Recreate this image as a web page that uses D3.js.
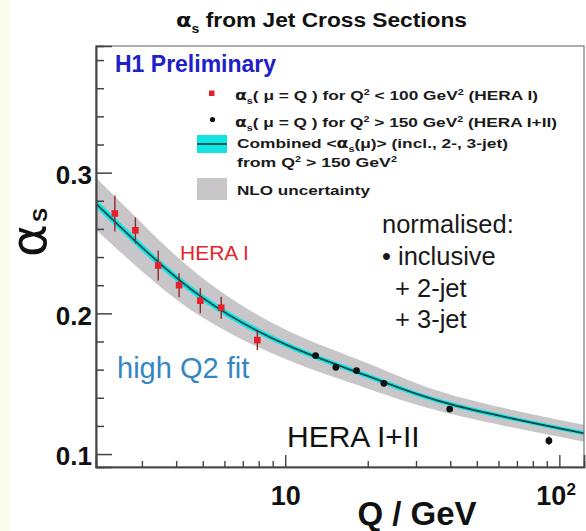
<!DOCTYPE html>
<html>
<head>
<meta charset="utf-8">
<script src="https://cdn.jsdelivr.net/npm/d3@7"></script>
<style>
  html, body { margin: 0; padding: 0; background: #ffffff; }
  svg { display: block; font-family: "Liberation Sans", Arial, Helvetica, sans-serif; }
</style>
</head>
<body>
<svg id="chart" width="586" height="531"></svg>
<script>
// Combined fit of the running coupling: central value and half-widths of the bands
const curveQ      = [2.04, 3, 5, 10, 20, 40, 123];
const curveAlpha  = [0.278, 0.247, 0.211, 0.178, 0.1555, 0.1355, 0.1148];
const nloHalf     = [0.0185, 0.017, 0.014, 0.0105, 0.009, 0.0068, 0.006];
const expHalf     = [0.003, 0.0028, 0.0025, 0.002, 0.0018, 0.0016, 0.0015];

// HERA I, Q^2 < 100 GeV^2
const heraIQ      = [2.39, 2.84, 3.44, 4.10, 4.90, 5.84, 7.91];
const heraIAlpha  = [0.271, 0.259, 0.234, 0.220, 0.209, 0.204, 0.181];
const heraIErr    = [0.0128, 0.0092, 0.0107, 0.0085, 0.0089, 0.0078, 0.0071];

// HERA I+II, Q^2 > 150 GeV^2
const heraIIQ     = [12.9, 15.3, 18.2, 22.9, 39.8, 91.6];
const heraIIAlpha = [0.170, 0.1617, 0.1593, 0.1503, 0.132, 0.1095];
const heraIIErr   = [0.0015, 0.0015, 0.0015, 0.0015, 0.002, 0.003];

// Axis ticks
const yMajorTicks = [0.1, 0.2, 0.3];
const yMinorTicks = [0.12, 0.14, 0.16, 0.18, 0.22, 0.24, 0.26, 0.28, 0.32, 0.34, 0.36, 0.38];
const xMajorTicks = [10, 100];
const xMinorTicks = [3, 4, 5, 6, 7, 8, 9, 20, 30, 40, 50, 60, 70, 80, 90];

const svg = d3.select("#chart");
const X0 = 96, X1 = 584, Y0 = 467, Y1 = 46;

const x = d3.scaleLog().domain([2.04, 123]).range([X0, X1]);
const y = d3.scaleLinear().domain([0.0908, 0.390]).range([Y0, Y1]);

// faint paper tint at the left edge
svg.append("rect").attr("x", 0).attr("y", 0).attr("width", 9).attr("height", 531).attr("fill", "#fbfbe9");

svg.append("defs").append("clipPath").attr("id", "plotClip")
  .append("rect").attr("x", X0).attr("y", Y1).attr("width", X1 - X0).attr("height", Y0 - Y1);

const plot = svg.append("g").attr("clip-path", "url(#plotClip)");

const curve = curveQ.map((q, i) => ({ q, a: curveAlpha[i], nlo: nloHalf[i], exp: expHalf[i] }));
const smooth = d3.curveNatural;

// NLO uncertainty band
plot.append("path")
  .datum(curve)
  .attr("fill", "#c8c6c8")
  .attr("d", d3.area().curve(smooth)
    .x(d => x(d.q)).y0(d => y(d.a - d.nlo)).y1(d => y(d.a + d.nlo)));

// experimental band of the combined fit
plot.append("path")
  .datum(curve)
  .attr("fill", "#12e4e4")
  .attr("d", d3.area().curve(smooth)
    .x(d => x(d.q)).y0(d => y(d.a - d.exp)).y1(d => y(d.a + d.exp)));

// central value
plot.append("path")
  .datum(curve)
  .attr("fill", "none")
  .attr("stroke", "#0a3c3e")
  .attr("stroke-width", 1.6)
  .attr("d", d3.line().curve(smooth).x(d => x(d.q)).y(d => y(d.a)));

// HERA I points
const heraI = heraIQ.map((q, i) => ({ q, a: heraIAlpha[i], e: heraIErr[i] }));
const gI = plot.append("g");
gI.selectAll("line").data(heraI).join("line")
  .attr("x1", d => x(d.q)).attr("x2", d => x(d.q))
  .attr("y1", d => y(d.a + d.e)).attr("y2", d => y(d.a - d.e))
  .attr("stroke", "#8a2a2e").attr("stroke-width", 1.4);
gI.selectAll("rect").data(heraI).join("rect")
  .attr("x", d => x(d.q) - 3.3).attr("y", d => y(d.a) - 3.3)
  .attr("width", 6.6).attr("height", 6.6)
  .attr("fill", "#e3202c");

// HERA I+II points
const heraII = heraIIQ.map((q, i) => ({ q, a: heraIIAlpha[i], e: heraIIErr[i] }));
const gII = plot.append("g");
gII.selectAll("line").data(heraII).join("line")
  .attr("x1", d => x(d.q)).attr("x2", d => x(d.q))
  .attr("y1", d => y(d.a + d.e)).attr("y2", d => y(d.a - d.e))
  .attr("stroke", "#111").attr("stroke-width", 1.2);
gII.selectAll("circle").data(heraII).join("circle")
  .attr("cx", d => x(d.q)).attr("cy", d => y(d.a)).attr("r", 3.4)
  .attr("fill", "#111");

// Frame
svg.append("rect").attr("x", X0).attr("y", Y1).attr("width", X1 - X0).attr("height", Y0 - Y1)
  .attr("fill", "none").attr("stroke", "#777").attr("stroke-width", 1.2);

// Y axis
const yAxisMajor = d3.axisLeft(y).tickValues(yMajorTicks).tickSize(-16).tickPadding(4)
  .tickFormat(d3.format(".1f"));
const yAxisMinor = d3.axisLeft(y).tickValues(yMinorTicks).tickSize(-8).tickFormat("");
const gyMin = svg.append("g").attr("transform", `translate(${X0},0)`).call(yAxisMinor);
const gyMaj = svg.append("g").attr("transform", `translate(${X0},0)`).call(yAxisMajor);
[gyMin, gyMaj].forEach(g => {
  g.select(".domain").attr("stroke", "#444").attr("stroke-width", 1.6);
  g.selectAll(".tick line").attr("stroke", "#444").attr("stroke-width", 1.5);
});
gyMaj.selectAll(".tick text")
  .attr("font-family", "Liberation Sans, Arial, sans-serif")
  .attr("font-weight", "bold").attr("font-size", 26).attr("fill", "#111")
  .attr("dy", "0.42em");

// X axis
const xAxisMajor = d3.axisBottom(x).tickValues(xMajorTicks).tickSize(-12).tickPadding(19)
  .tickFormat(d => d === 10 ? "10" : "");
const xAxisMinor = d3.axisBottom(x).tickValues(xMinorTicks).tickSize(-6).tickFormat("");
const gxMin = svg.append("g").attr("transform", `translate(0,${Y0})`).call(xAxisMinor);
const gxMaj = svg.append("g").attr("transform", `translate(0,${Y0})`).call(xAxisMajor);
[gxMin, gxMaj].forEach(g => {
  g.select(".domain").attr("stroke", "#444").attr("stroke-width", 1.6);
  g.selectAll(".tick line").attr("stroke", "#444").attr("stroke-width", 1.4);
});
gxMaj.selectAll(".tick text")
  .attr("font-family", "Liberation Sans, Arial, sans-serif")
  .attr("font-weight", "bold").attr("font-size", 27).attr("fill", "#111");
// 10^2 label with superscript
const hundred = svg.append("text")
  .attr("x", x(100) - 23).attr("y", 505)
  .attr("font-weight", "bold").attr("font-size", 27).attr("fill", "#111");
hundred.append("tspan").text("10");
hundred.append("tspan").text("2").attr("font-size", 17).attr("dy", -10);

// Axis titles
svg.append("text").attr("x", 417).attr("y", 525).attr("text-anchor", "middle")
  .attr("font-weight", "bold").attr("font-size", 33).attr("fill", "#111")
  .text("Q / GeV");

const yTitle = svg.append("text").attr("transform", "translate(46,257) rotate(-90)")
  .attr("fill", "#111");
yTitle.append("tspan").text("α").attr("font-family", "DejaVu Sans, sans-serif").attr("font-size", 50);
yTitle.append("tspan").text("S").attr("font-weight", "bold").attr("font-size", 21).attr("dx", 2).attr("dy", 1);

// Text with sub/superscripts
function richText(parent, px, py, size, parts, opts = {}) {
  const t = parent.append("text").attr("x", px).attr("y", py).attr("font-size", size);
  if (opts.weight) t.attr("font-weight", opts.weight);
  if (opts.fill) t.attr("fill", opts.fill);
  if (opts.anchor) t.attr("text-anchor", opts.anchor);
  let shift = 0;
  parts.forEach(p => {
    const s = t.append("tspan").text(p.t);
    const target = p.sub ? size * 0.3 : p.sup ? -size * 0.4 : 0;
    if (target !== shift) { s.attr("dy", target - shift); shift = target; }
    if (p.sub || p.sup) s.attr("font-size", size * 0.62);
    if (p.font) s.attr("font-family", p.font);
  });
  if (opts.len) t.attr("textLength", opts.len).attr("lengthAdjust", "spacingAndGlyphs");
  return t;
}

// Title
richText(svg, 176, 27, 20, [
  { t: "α", font: "DejaVu Sans, sans-serif" }, { t: "s", sub: true }, { t: " from Jet Cross Sections" }
], { weight: "bold", fill: "#111", len: 291 });

// Experiment label
svg.append("text").attr("x", 115).attr("y", 72).attr("font-weight", "bold").attr("font-size", 23)
  .attr("fill", "#2020c8").text("H1 Preliminary");

// Legend
const lg = svg.append("g");
lg.append("rect").attr("x", 209).attr("y", 90.5).attr("width", 5.5).attr("height", 5.5).attr("fill", "#e3202c");
lg.append("circle").attr("cx", 212.5).attr("cy", 119.5).attr("r", 2.6).attr("fill", "#111");
lg.append("rect").attr("x", 197).attr("y", 135).attr("width", 30).attr("height", 18).attr("fill", "#12e4e4");
lg.append("line").attr("x1", 197).attr("x2", 227).attr("y1", 144).attr("y2", 144)
  .attr("stroke", "#0a3c3e").attr("stroke-width", 1.6);
lg.append("rect").attr("x", 197).attr("y", 178).attr("width", 30).attr("height", 22).attr("fill", "#c8c6c8");

const lgOpts = { weight: "bold", fill: "#1a1a1a" };
richText(lg, 235, 100, 13.5, [
  { t: "α", font: "DejaVu Sans, sans-serif" }, { t: "s", sub: true }, { t: "( μ = Q ) for Q" }, { t: "2", sup: true },
  { t: " < 100 GeV" }, { t: "2", sup: true }, { t: " (HERA I)" }
], { ...lgOpts, len: 303 });
richText(lg, 235, 127, 13.5, [
  { t: "α", font: "DejaVu Sans, sans-serif" }, { t: "s", sub: true }, { t: "( μ = Q ) for Q" }, { t: "2", sup: true },
  { t: " > 150 GeV" }, { t: "2", sup: true }, { t: " (HERA I+II)" }
], { ...lgOpts, len: 322 });
richText(lg, 237, 148, 13.5, [
  { t: "Combined <" }, { t: "α", font: "DejaVu Sans, sans-serif" }, { t: "s", sub: true },
  { t: "(μ)> (incl., 2-, 3-jet)" }
], { ...lgOpts, len: 271 });
richText(lg, 237, 167, 13.5, [
  { t: "from Q" }, { t: "2", sup: true }, { t: " > 150 GeV" }, { t: "2", sup: true }
], { ...lgOpts, len: 160 });
richText(lg, 237, 195, 13.5, [{ t: "NLO uncertainty" }], { ...lgOpts, len: 133 });

// Annotations
svg.append("text").attr("x", 180).attr("y", 260).attr("font-size", 21).attr("fill", "#e3262e").text("HERA I");
svg.append("text").attr("x", 117).attr("y", 378).attr("font-size", 29).attr("fill", "#3486c2").text("high Q2 fit");
svg.append("text").attr("x", 287).attr("y", 447).attr("font-size", 30).attr("fill", "#111").text("HERA I+II");

const note = svg.append("g").attr("font-size", 25.5).attr("fill", "#1a1a1a");
note.append("text").attr("x", 382).attr("y", 233).text("normalised:");
note.append("text").attr("x", 382).attr("y", 265).text("• inclusive");
note.append("text").attr("x", 395).attr("y", 297).text("+ 2-jet");
note.append("text").attr("x", 395).attr("y", 328).text("+ 3-jet");
</script>
</body>
</html>
